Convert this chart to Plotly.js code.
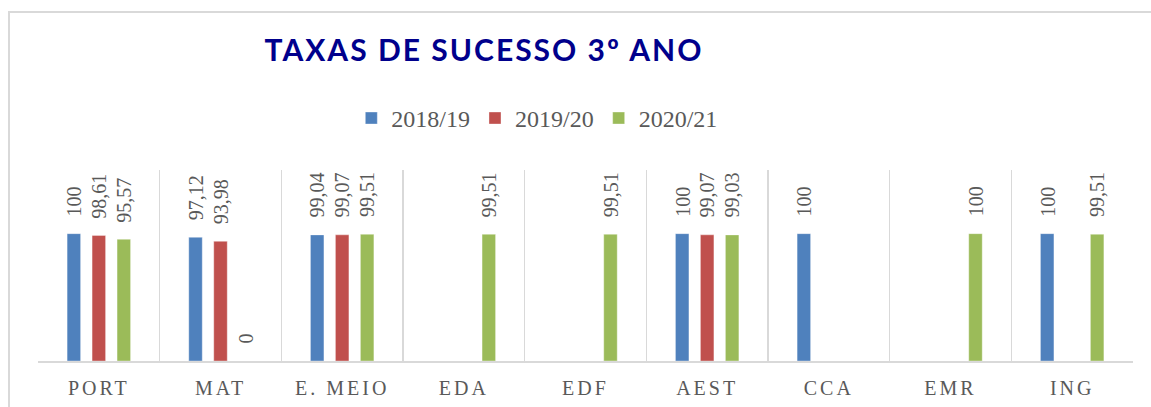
<!DOCTYPE html>
<html>
<head>
<meta charset="utf-8">
<script src="https://cdn.plot.ly/plotly-3.0.1.min.js"></script>
<style>
  html, body { margin: 0; padding: 0; background: #ffffff; overflow: hidden; }
  #wrap { position: relative; width: 1151px; height: 407px; }
  #chart { position: absolute; left: 0; top: 0; width: 1151px; height: 407px; }
  #frame { position: absolute; left: 8px; top: 11px; right: -10px; bottom: -10px;
           border-top: 2px solid #d9d9d9; border-left: 2px solid #d9d9d9; pointer-events: none; }
  .xtick text { letter-spacing: 3px; }
  .gtitle { letter-spacing: 2px; }
</style>
</head>
<body>
<div id="wrap">
  <div id="chart"></div>
  <div id="frame"></div>
</div>
<script>
const categories = ['PORT', 'MAT', 'E. MEIO', 'EDA', 'EDF', 'AEST', 'CCA', 'EMR', 'ING'];
const seriesNames = ['2018/19', '2019/20', '2020/21'];
const values2018 = [100, 97.12, 99.04, null, null, 100, 100, null, 100];
const values2019 = [98.61, 93.98, 99.07, null, null, 99.07, null, null, null];
const values2020 = [95.57, 0, 99.51, 99.51, 99.51, 99.03, null, 100, 99.51];
const seriesColors = ['#4F81BD', '#C0504D', '#9BBB59'];

const allValues = [values2018, values2019, values2020];
const labelFont = { family: 'Liberation Serif, serif', size: 20, color: '#595959' };

const traces = allValues.map((vals, i) => ({
  type: 'bar',
  name: seriesNames[i],
  x: categories,
  y: vals,
  marker: { color: seriesColors[i], line: { color: 'rgba(255,255,255,0.35)', width: 1 } },
  hoverinfo: 'skip'
}));

const fmt = v => String(v).replace('.', ',');
const annotations = [];
allValues.forEach((vals, i) => {
  vals.forEach((v, j) => {
    if (v === null) return;
    annotations.push({
      x: categories[j], y: v, xref: 'x', yref: 'y',
      text: fmt(v), textangle: -90, showarrow: false,
      xanchor: 'center', yanchor: 'bottom',
      xshift: (i - 1) * 25, yshift: 15,
      font: labelFont
    });
  });
});

const layout = {
  width: 1151, height: 407,
  margin: { l: 38, r: 18, t: 170, b: 46 },
  paper_bgcolor: '#ffffff', plot_bgcolor: '#ffffff',
  title: {
    text: '<b>TAXAS DE SUCESSO 3º ANO</b>',
    font: { family: 'Lato, sans-serif', size: 30, color: '#00008C' },
    xref: 'container', yref: 'container',
    x: 484 / 1151, xanchor: 'center',
    y: 1 - 50 / 407, yanchor: 'middle'
  },
  showlegend: true,
  legend: {
    orientation: 'h',
    x: 0.456, xanchor: 'center',
    y: 1.27, yanchor: 'middle',
    font: { family: 'Liberation Serif, serif', size: 24, color: '#595959' },
    bgcolor: 'rgba(0,0,0,0)'
  },
  barmode: 'group',
  bargap: 0.384,
  bargroupgap: 0.46,
  xaxis: {
    type: 'category',
    tickson: 'boundaries',
    showgrid: true, gridcolor: '#d9d9d9', gridwidth: 1.5,
    showline: true, linecolor: '#d9d9d9', linewidth: 2,
    ticks: '', ticklen: 0,
    ticklabelstandoff: 8,
    tickfont: { family: 'Liberation Serif, serif', size: 20, color: '#595959' },
    fixedrange: true
  },
  yaxis: {
    range: [0, 150],
    showgrid: false, zeroline: false, showline: false,
    showticklabels: false, ticks: '',
    fixedrange: true
  },
  annotations: annotations
};

Plotly.newPlot('chart', traces, layout, { displayModeBar: false, staticPlot: true });
</script>
</body>
</html>
